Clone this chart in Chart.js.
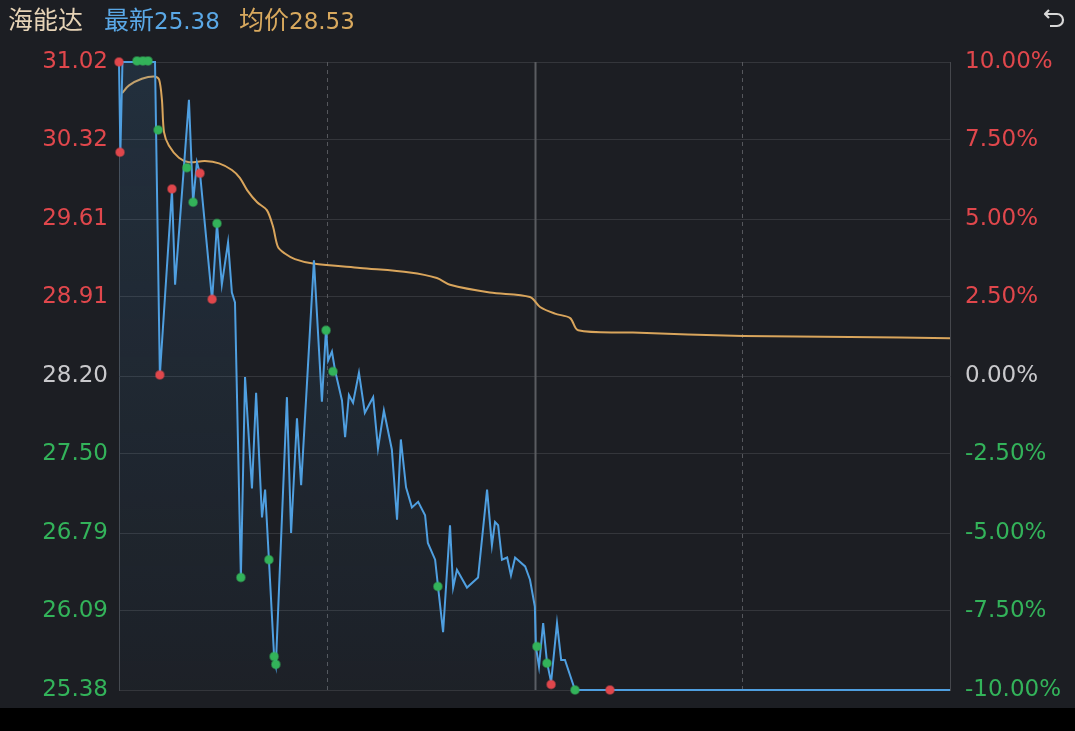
<!DOCTYPE html>
<html>
<head>
<meta charset="utf-8">
<script src="https://cdn.jsdelivr.net/npm/chart.js@4.4.0/dist/chart.umd.min.js"></script>
<style>
  html,body{margin:0;padding:0;background:#1c1e23;width:1075px;height:731px;overflow:hidden;}
  #wrap{position:relative;width:1075px;height:731px;}
  canvas{position:absolute;left:0;top:0;}
  .hdr{position:absolute;top:3px;font-family:"Noto Sans CJK SC","Noto Sans",sans-serif;font-size:25px;line-height:30px;white-space:nowrap;}
  .num{font-family:"DejaVu Sans","Noto Sans",sans-serif;font-size:23px;}
  #bottomBar{position:absolute;left:0;top:708px;width:1075px;height:23px;background:#000;}
  #icon{position:absolute;left:1042px;top:5px;}
</style>
</head>
<body>
<div id="wrap">
  <canvas id="c" width="1075" height="731"></canvas>
  <div class="hdr" style="left:8px;color:#e6d3b6;">海能达</div>
  <div class="hdr" style="left:104px;color:#5aa8e6;">最新<span class="num">25.38</span></div>
  <div class="hdr" style="left:239px;color:#d8a95e;">均价<span class="num">28.53</span></div>
  <svg id="icon" width="26" height="24" viewBox="0 0 26 24">
    <path d="M7 5 L3 9 L7 13" fill="none" stroke="#d8d8d8" stroke-width="2.2" stroke-linejoin="round"/>
    <path d="M3.5 9 H15 A6 6 0 0 1 15 21 H8" fill="none" stroke="#d8d8d8" stroke-width="2.2"/>
  </svg>
  <div id="bottomBar"></div>
</div>
<script>
// ---- data ----
const prevClose = 28.20;
const priceTicks = [31.02, 30.32, 29.61, 28.91, 28.20, 27.50, 26.79, 26.09, 25.38];
const pctTicks = [10, 7.5, 5, 2.5, 0, -2.5, -5, -7.5, -10];
const sessionMarks = [60, 120, 180];

const priceMinutes = [0, 0.4, 1, 10.4, 11.8, 15.3, 16.2, 20.2, 21.4, 22.5, 23.4, 26.9, 28.3, 29.7, 31.5, 32.6, 33.5, 35.2, 36.4, 38.4, 39.6, 41.3, 42.2, 43.3, 44.8, 45.3, 48.5, 49.7, 51.4, 52.6, 54.3, 56.3, 58.6, 59.8, 60.4, 61.5, 62.4, 64.4, 65.3, 66.4, 67.6, 69.3, 71.0, 73.4, 74.8, 76.5, 78.8, 80.3, 81.4, 82.9, 84.6, 86.4, 88.4, 89.2, 91.3, 92.1, 93.6, 95.6, 96.5, 97.6, 100.5, 103.7, 106.3, 107.7, 108.6, 109.5, 110.6, 112.1, 113.2, 114.4, 117.3, 118.7, 120.1, 120.4, 121.3, 122.5, 123.6, 124.8, 126.5, 127.7, 128.8, 131.7, 240];
const prices = [31.02, 30.21, 31.02, 31.02, 28.21, 29.87, 29.02, 30.68, 29.76, 30.12, 30.02, 28.88, 29.57, 29.02, 29.40, 28.95, 28.86, 26.39, 28.19, 27.19, 28.05, 26.93, 27.18, 26.55, 25.68, 25.60, 28.01, 26.79, 27.82, 27.22, 28.14, 29.24, 27.97, 28.63, 28.34, 28.42, 28.25, 27.98, 27.65, 28.03, 27.96, 28.23, 27.87, 28.01, 27.55, 27.89, 27.54, 26.91, 27.63, 27.20, 27.02, 27.07, 26.95, 26.70, 26.55, 26.32, 25.90, 26.86, 26.30, 26.46, 26.30, 26.39, 27.18, 26.68, 26.89, 26.86, 26.55, 26.57, 26.41, 26.57, 26.49, 26.37, 26.13, 25.77, 25.59, 25.98, 25.63, 25.45, 25.98, 25.65, 25.65, 25.38, 25.38];

const avgMinutes = [0.9, 2.9, 6.6, 10.4, 11.6, 12.4, 13.0, 14.4, 17.3, 20.2, 24.8, 28.9, 32.6, 34.9, 37.0, 39.9, 42.7, 44.5, 45.9, 47.9, 50.8, 56.0, 69.6, 84.0, 91.8, 95.6, 107.1, 118.7, 121.6, 125.9, 130.3, 132.6, 148.4, 180.2, 211.1, 240];
const avgPrices = [30.74, 30.81, 30.87, 30.89, 30.86, 30.68, 30.39, 30.27, 30.16, 30.12, 30.13, 30.11, 30.05, 29.98, 29.87, 29.76, 29.69, 29.54, 29.36, 29.30, 29.25, 29.21, 29.17, 29.13, 29.08, 29.02, 28.95, 28.91, 28.82, 28.76, 28.72, 28.61, 28.59, 28.56, 28.55, 28.54];

const buyDotMinutes = [0, 0.3, 11.8, 15.3, 23.4, 26.9, 124.8, 141.8];
const buyDotPrices = [31.02, 30.21, 28.21, 29.88, 30.02, 28.89, 25.43, 25.38];
const sellDotMinutes = [5.2, 6.9, 8.4, 11.3, 19.6, 21.4, 28.3, 35.2, 43.3, 44.8, 45.3, 59.8, 61.8, 92.1, 120.7, 123.6, 131.7];
const sellDotPrices = [31.03, 31.03, 31.03, 30.41, 30.07, 29.76, 29.57, 26.39, 26.55, 25.68, 25.61, 28.61, 28.24, 26.31, 25.77, 25.62, 25.38];

// ---- colours ----
const RED = '#e0474c', GREEN = '#33b35a', GRAY = '#c9c9cc';
const pts = (xs, ys) => xs.map((x, i) => ({x, y: ys[i]}));

const vLines = {
  id: 'vLines',
  beforeDatasetsDraw(chart) {
    const {ctx, chartArea: a, scales: {x}} = chart;
    ctx.save();
    sessionMarks.forEach(m => {
      const px = Math.round(x.getPixelForValue(m)) + 0.5;
      ctx.beginPath();
      if (m === 120) { ctx.setLineDash([]); ctx.strokeStyle = '#5a5c61'; ctx.lineWidth = 2; }
      else { ctx.setLineDash([4, 4]); ctx.strokeStyle = '#55575c'; ctx.lineWidth = 1; }
      ctx.moveTo(px, a.top); ctx.lineTo(px, a.bottom); ctx.stroke();
    });
    ctx.restore();
  }
};

const tickColor = (v, mid) => v > mid + 1e-9 ? RED : (v < mid - 1e-9 ? GREEN : GRAY);
const tickFont = {family: '"DejaVu Sans", Verdana, sans-serif', size: 23};

new Chart(document.getElementById('c'), {
  type: 'line',
  data: {
    datasets: [
      {
        label: 'buy', type: 'scatter', data: pts(buyDotMinutes, buyDotPrices), clip: false,
        backgroundColor: RED, borderColor: 'rgba(224,71,76,0.5)', borderWidth: 2, pointRadius: 4, order: 0
      },
      {
        label: 'sell', type: 'scatter', data: pts(sellDotMinutes, sellDotPrices), clip: false,
        backgroundColor: GREEN, borderColor: 'rgba(51,179,90,0.5)', borderWidth: 2, pointRadius: 4, order: 0
      },
      {
        label: 'avg', data: pts(avgMinutes, avgPrices), borderColor: '#d9a55c', borderWidth: 2,
        pointRadius: 0, tension: 0.3, fill: false, order: 2, clip: false
      },
      {
        label: 'price', data: pts(priceMinutes, prices), borderColor: '#4f9fe0', borderWidth: 2,
        pointRadius: 0, tension: 0, order: 1, clip: false,
        fill: 'start',
        backgroundColor: (c) => {
          const a = c.chart.chartArea;
          if (!a) return 'rgba(70,130,190,0.08)';
          const g = c.chart.ctx.createLinearGradient(0, a.top, 0, a.bottom);
          g.addColorStop(0, 'rgba(70,140,200,0.16)');
          g.addColorStop(1, 'rgba(70,140,200,0.03)');
          return g;
        }
      }
    ]
  },
  options: {
    responsive: false, animation: false, devicePixelRatio: 1,
    layout: {padding: {top: 62, bottom: 41, left: 0, right: 0}},
    plugins: {legend: {display: false}, tooltip: {enabled: false}},
    scales: {
      x: {type: 'linear', min: 0, max: 240, display: false},
      y: {
        type: 'linear', position: 'left', min: 25.38, max: 31.02,
        afterBuildTicks: s => { s.ticks = priceTicks.map(v => ({value: v})); },
        afterFit: s => { s.width = 119; },
        ticks: {
          autoSkip: false, padding: 11, font: tickFont,
          callback: v => v.toFixed(2),
          color: c => tickColor(c.tick.value, prevClose)
        },
        grid: {color: '#34363b', lineWidth: 1, drawTicks: false},
        border: {display: true, color: '#45474c', width: 1}
      },
      y2: {
        type: 'linear', position: 'right', min: -10, max: 10,
        afterBuildTicks: s => { s.ticks = pctTicks.map(v => ({value: v})); },
        afterFit: s => { s.width = 125; },
        ticks: {
          autoSkip: false, padding: 15, font: tickFont,
          callback: v => v.toFixed(2) + '%',
          color: c => tickColor(c.tick.value, 0)
        },
        grid: {drawOnChartArea: false, drawTicks: false},
        border: {display: true, color: '#45474c', width: 1}
      }
    }
  },
  plugins: [vLines]
});
</script>
</body>
</html>
